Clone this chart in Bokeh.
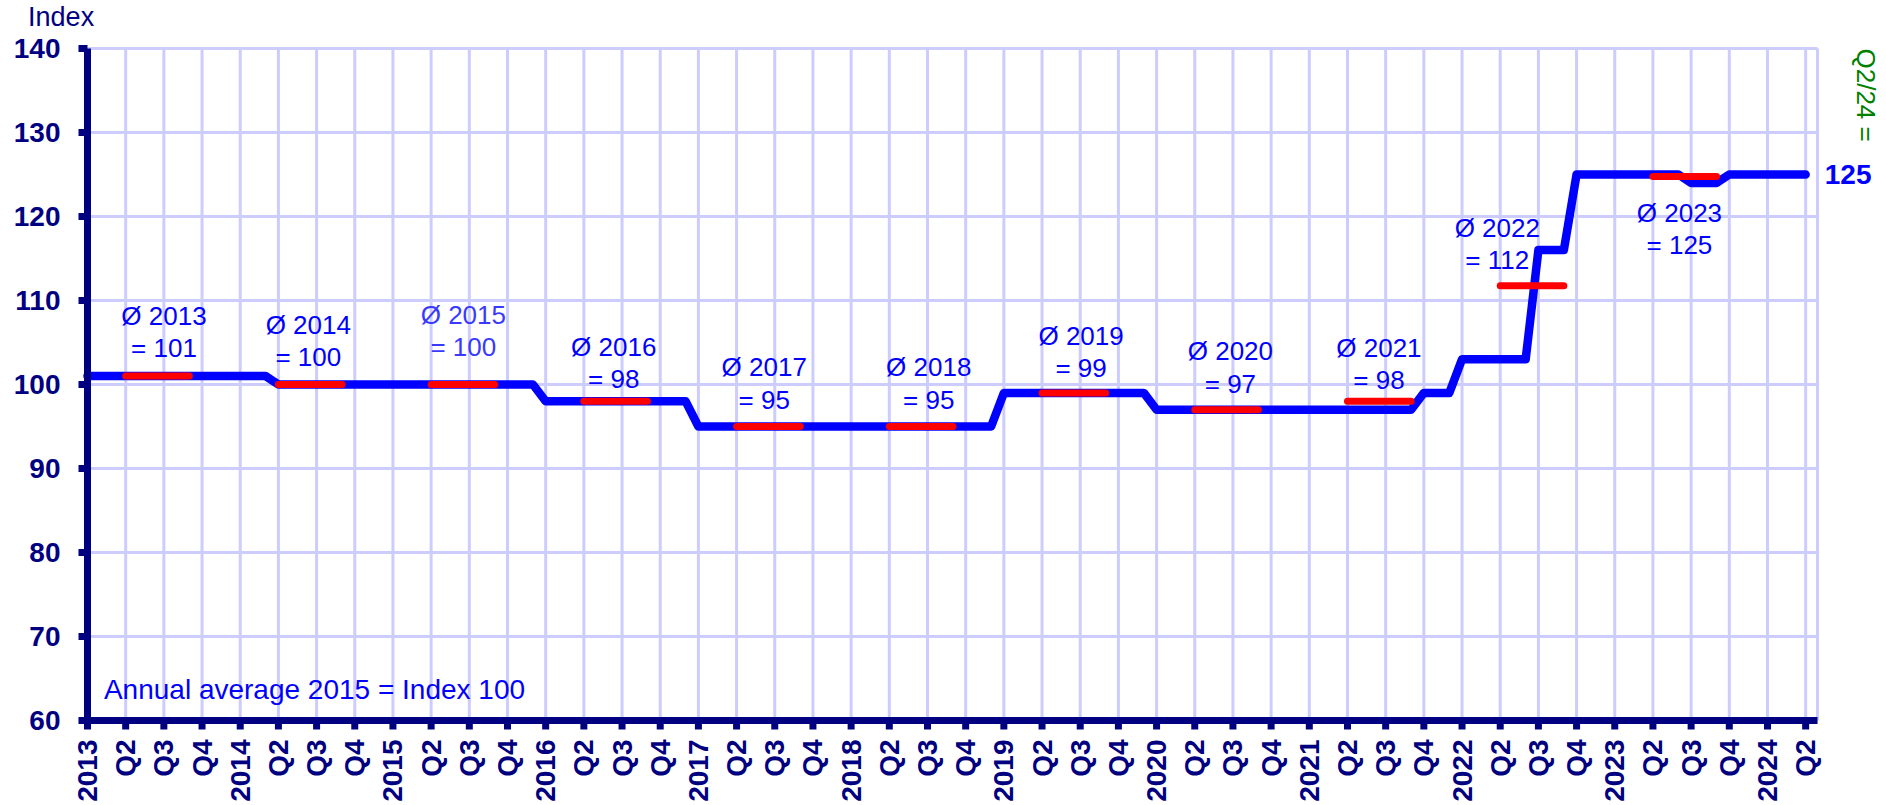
import math
import numpy as np
from bokeh.plotting import figure
from bokeh.models import Range1d, Label, ColumnDataSource
from bokeh.core.properties import value
from bokeh.embed import file_html
from bokeh.resources import INLINE

# ---------------- data ----------------
first_year = 2013
# quarterly index values 2013 Q1 ... 2024 Q2
quarterly_index = [101, 101, 101, 101,
                   101, 100, 100, 100,
                   100, 100, 100, 100,
                   98, 98, 98, 98,
                   95, 95, 95, 95,
                   95, 95, 95, 95,
                   99, 99, 99, 99,
                   97, 97, 97, 97,
                   97, 97, 97, 99,
                   103, 103, 116, 125,
                   125, 125, 124, 125,
                   125, 125]
n_months = 136  # January 2013 ... April 2024 (monthly plot points)

avg_years = [2013, 2014, 2015, 2016, 2017, 2018, 2019, 2020, 2021, 2022, 2023]
avg_values = [101, 100, 100, 98, 95, 95, 99, 97, 98, 111.75, 124.75]
avg_labels = [101, 100, 100, 98, 95, 95, 99, 97, 98, 112, 125]
avg_from_month = 4   # April
avg_to_month = 9     # September

y_ticks = [60, 70, 80, 90, 100, 110, 120, 130, 140]
quarter_names = ["", "Q2", "Q3", "Q4"]
last_label = "Q2/24 ="
last_value = 125

# --------------- layout ---------------
X_END = 45.31          # right edge of the plotted area (quarters)
Y_MIN, Y_MAX = 60, 140
lab_dx = [0.17, -0.05, 0.01, -0.05, -0.11, 0.20, 0.19, 0.10, -0.01, -0.91, -0.14]
lab_dy = [7.21, 7.14, 8.33, 6.52, 7.06, 7.06, 6.83, 6.93, 6.35, 6.88, -4.33]
line_gap = 3.85

FONT = value("Liberation Sans")
NAVY = "#000080"
BLUE = "#0000ff"
GRID = "#ccccff"

n_q = len(quarterly_index)
monthly = np.repeat(quarterly_index, 3)[:n_months]
x_month = np.arange(n_months) / 3.0

W, H = 1886, 805
LEFT, BOTTOM = 87, 85          # page position of the y axis / height of x-axis area
px_x = 1730 / X_END            # pixels per quarter
px_y = 672 / (Y_MAX - Y_MIN)   # pixels per index point
TICK_OUT = 9
Y_STANDOFF = 18
X_STANDOFF = 10

p = figure(width=W, height=H, output_backend="svg", toolbar_location=None, title=None,
           x_axis_location=None, y_axis_location=None,
           x_range=Range1d(-LEFT / px_x, (W - LEFT) / px_x),
           y_range=Range1d(Y_MIN - BOTTOM / px_y, Y_MIN + (H - BOTTOM) / px_y),
           min_border=0, min_border_left=0, min_border_right=0, min_border_top=0,
           min_border_bottom=0)
p.background_fill_color = "white"
p.border_fill_color = "white"
p.outline_line_color = None
p.xgrid.visible = False
p.ygrid.visible = False

ticks_x = list(range(n_q))
x_tick_labels = [str(first_year + i // 4) if i % 4 == 0 else quarter_names[i % 4]
                 for i in ticks_x]

# grid (limited to the plotted area)
gx = ticks_x + [X_END]
p.segment(x0=gx, y0=[Y_MIN] * len(gx), x1=gx, y1=[Y_MAX] * len(gx),
          line_color=GRID, line_width=3)
p.segment(x0=[0] * len(y_ticks), y0=y_ticks, x1=[X_END] * len(y_ticks), y1=y_ticks,
          line_color=GRID, line_width=3)

# main line
p.line(x_month, monthly, line_color=BLUE, line_width=8.5, line_cap="round", line_join="round")

# annual averages
yi = [y - first_year for y in avg_years]
x0 = [i * 4 + (avg_from_month - 1) / 3 for i in yi]
x1 = [i * 4 + (avg_to_month - 1) / 3 for i in yi]
p.segment(x0=x0, y0=avg_values, x1=x1, y1=avg_values, line_color="#ff0000",
          line_width=7, line_cap="round")

cx = [(a + b) / 2 + d for a, b, d in zip(x0, x1, lab_dx)]
ly1 = [v + d for v, d in zip(avg_values, lab_dy)]
ly2 = [v - line_gap for v in ly1]
cols = [BLUE if y != 2015 else "#3a3aff" for y in avg_years]
src = ColumnDataSource(dict(x=cx, y1=ly1, y2=ly2,
                            t1=["Ø %d" % y for y in avg_years],
                            t2=["= %d" % v for v in avg_labels], c=cols))
p.text(x="x", y="y1", text="t1", source=src, text_font=FONT, text_font_size="26px",
       text_color="c", text_align="center", text_baseline="middle")
p.text(x="x", y="y2", text="t2", source=src, text_font=FONT, text_font_size="26px",
       text_color="c", text_align="center", text_baseline="middle")

# y axis: line, ticks, labels
p.segment(x0=[0], y0=[Y_MIN], x1=[0], y1=[Y_MAX], line_color=NAVY, line_width=7)
p.segment(x0=[-TICK_OUT / px_x] * len(y_ticks), y0=y_ticks, x1=[0] * len(y_ticks),
          y1=y_ticks, line_color=NAVY, line_width=7)
p.text(x=[-(TICK_OUT + Y_STANDOFF) / px_x] * len(y_ticks), y=y_ticks,
       text=[str(v) for v in y_ticks], text_font=FONT, text_font_size="28px",
       text_font_style="bold", text_color=NAVY, text_align="right", text_baseline="middle")
p.text(x=[-1.556], y=[143.7], text=["Index"], text_font=FONT, text_font_size="27px",
       text_color=NAVY, text_align="left", text_baseline="middle")

# x axis: line, ticks, vertical labels
p.segment(x0=[0], y0=[Y_MIN], x1=[X_END], y1=[Y_MIN], line_color=NAVY, line_width=7)
p.segment(x0=ticks_x, y0=[Y_MIN] * n_q, x1=ticks_x, y1=[Y_MIN - TICK_OUT / px_y] * n_q,
          line_color=NAVY, line_width=7)
p.text(x=ticks_x, y=[Y_MIN - (TICK_OUT + X_STANDOFF) / px_y] * n_q, text=x_tick_labels,
       angle=math.pi / 2, text_font=FONT, text_font_size="28px", text_font_style="bold",
       text_color=NAVY, text_align="right", text_baseline="middle")

# right-hand annotations
p.text(x=[X_END + 0.19], y=[last_value], text=[str(last_value)], text_font=FONT,
       text_font_size="28px", text_font_style="bold", text_color=BLUE,
       text_align="left", text_baseline="middle")
p.text(x=[X_END + 1.26], y=[Y_MAX], text=[last_label], text_font=FONT,
       text_font_size="26px", text_color="#008000", angle=-math.pi / 2,
       text_align="left", text_baseline="middle")

p.add_layout(Label(x=0.43, y=63.69, text="Annual average 2015 = Index 100",
                   text_font="Liberation Sans", text_font_size="28px", text_color=BLUE,
                   text_align="left", text_baseline="middle"))

open("out.html", "w").write(file_html(p, INLINE))
